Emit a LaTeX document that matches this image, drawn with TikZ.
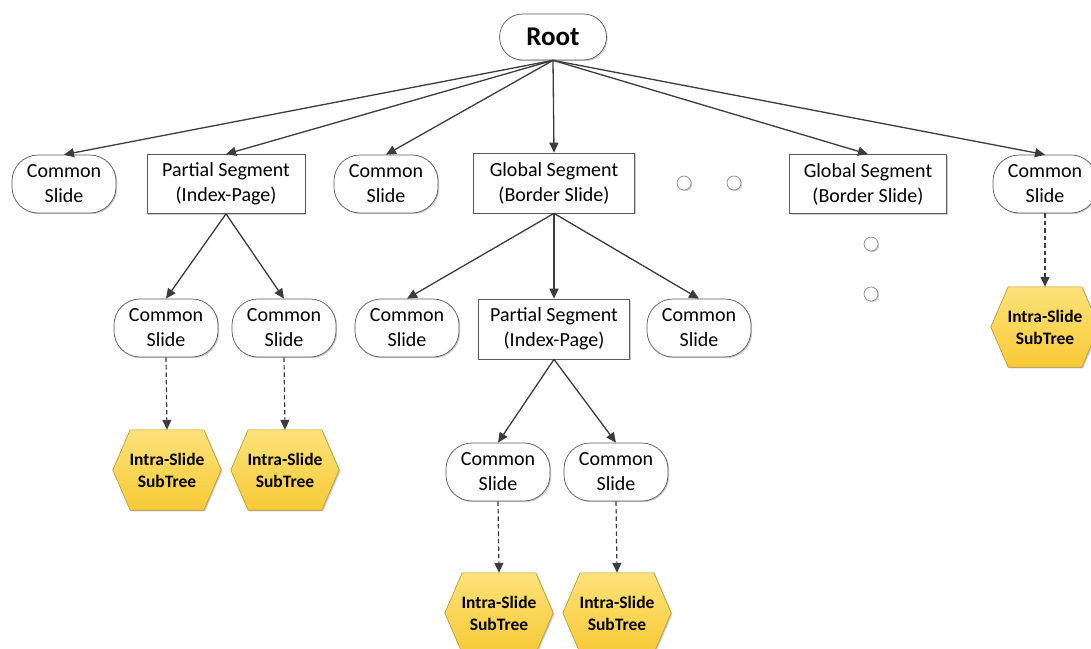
\documentclass[tikz,border=0pt]{standalone}
\usepackage{fontspec}
\setmainfont{Carlito}
\usetikzlibrary{arrows.meta,calc,shadows}
\pgfdeclarelayer{bg}
\pgfsetlayers{bg,main}
\definecolor{edgegray}{HTML}{3C3C3C}
\definecolor{boxline}{HTML}{5A5A5A}
\definecolor{hextop}{HTML}{FDE27A}
\definecolor{hexbot}{HTML}{F8CA36}
\definecolor{hexline}{HTML}{B8942A}
\definecolor{dotline}{HTML}{8C8C8C}
\tikzset{
  softshadow/.style={drop shadow={shadow xshift=1.2pt, shadow yshift=-1.2pt, opacity=0.2, fill=black}},
  base/.style={draw=boxline, line width=0.7pt, fill=white, align=center, inner sep=0pt,
    font=\fontsize{20}{25}\selectfont, text=black},
  slidebox/.style={base, softshadow, rounded corners=26pt, minimum width=104pt, minimum height=58pt},
  segbox/.style={base, softshadow, minimum width=158pt, minimum height=59pt},
  rootbox/.style={base, softshadow, rounded corners=23pt, minimum width=107pt, minimum height=46pt,
    font=\fontsize{27}{30}\selectfont\bfseries},
  hexbox/.style={draw=none, align=center, inner sep=0pt, minimum width=108pt, minimum height=80pt,
    font=\fontsize{17.5}{22}\selectfont\bfseries, text=black},
  hexshape/.style={draw=hexline, line width=0.6pt, top color=hextop, bottom color=hexbot, softshadow},
  dotnode/.style={circle, draw=dotline, fill=white, line width=0.7pt, minimum size=14pt, inner sep=0pt, softshadow},
  arr/.style={draw=edgegray, line width=1.3pt, -{Triangle[length=10pt,width=9pt]}},
  darr/.style={arr, line width=1.2pt, dash pattern=on 4.5pt off 3pt}
}
\begin{document}
\begin{tikzpicture}[x=1pt, y=-1pt]
\useasboundingbox (0,0) rectangle (1091,648);

% top level
\node[rootbox] (root) at (553,37) {Root};

\node[slidebox] (c1) at (64,184) {Common\\Slide};
\node[segbox] (p1) at (226,184) {Partial Segment\\(Index-Page)};
\node[slidebox] (c2) at (386,184) {Common\\Slide};
\node[segbox, minimum width=161pt, minimum height=60pt] (g1) at (554,183) {Global Segment\\(Border Slide)};
\node[dotnode] (d1) at (684,183) {};
\node[dotnode] (d2) at (734,183) {};
\node[segbox, minimum width=157pt] (g2) at (868,184) {Global Segment\\(Border Slide)};
\node[slidebox] (c3) at (1045,184) {Common\\Slide};

% second level
\node[slidebox] (c4) at (166,328) {Common\\Slide};
\node[slidebox] (c5) at (284,328) {Common\\Slide};
\node[slidebox] (c6) at (407,328) {Common\\Slide};
\node[segbox, minimum width=151pt, minimum height=60pt] (p2) at (554,329) {Partial Segment\\(Index-Page)};
\node[slidebox] (c7) at (699,328) {Common\\Slide};
\node[dotnode] (d3) at (871,244) {};
\node[dotnode] (d4) at (871,294) {};
\node[hexbox] (x3) at (1045,327) {Intra-Slide\\SubTree};

% third level
\node[hexbox] (h1) at (167,470) {Intra-Slide\\SubTree};
\node[hexbox] (h2) at (285,470) {Intra-Slide\\SubTree};
\node[slidebox] (c8) at (498,472) {Common\\Slide};
\node[slidebox] (c9) at (616,472) {Common\\Slide};

% fourth level
\node[hexbox] (h4) at (499,613) {Intra-Slide\\SubTree};
\node[hexbox] (h5) at (617,613) {Intra-Slide\\SubTree};

% hexagon outlines behind the subtree labels
\begin{pgfonlayer}{bg}
\foreach \h in {x3,h1,h2,h4,h5}
  \path[hexshape] (\h.west)
    -- ($(\h.north west)!0.16!(\h.north east)$)
    -- ($(\h.north west)!0.84!(\h.north east)$)
    -- (\h.east)
    -- ($(\h.south west)!0.84!(\h.south east)$)
    -- ($(\h.south west)!0.16!(\h.south east)$)
    -- cycle;
\end{pgfonlayer}

% edges from the root
\foreach \t in {c1,p1,c2,g1,g2,c3}
  \draw[arr] (root.south) -- (\t.north);

% edges below the segments
\draw[arr] (p1.south) -- (c4.north);
\draw[arr] (p1.south) -- (c5.north);
\draw[arr] (g1.south) -- (c6.north);
\draw[arr] (g1.south) -- (p2.north);
\draw[arr] (g1.south) -- (c7.north);
\draw[arr] (p2.south) -- (c8.north);
\draw[arr] (p2.south) -- (c9.north);

% links to intra-slide subtrees
\draw[darr] (c3.south) -- (x3.north);
\draw[darr] (c4.south) -- (h1.north);
\draw[darr] (c5.south) -- (h2.north);
\draw[darr] (c8.south) -- (h4.north);
\draw[darr] (c9.south) -- (h5.north);
\end{tikzpicture}
\end{document}
